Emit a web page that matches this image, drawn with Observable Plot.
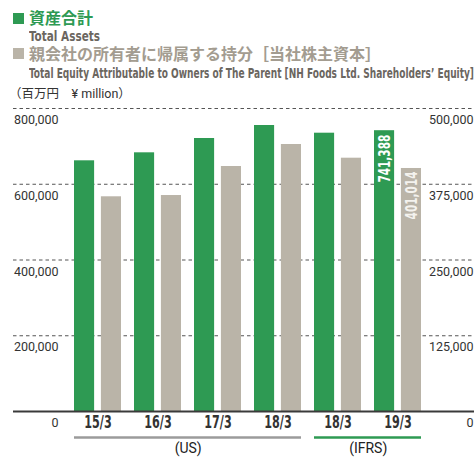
<!DOCTYPE html>
<html><head><meta charset="utf-8">
<script src="https://cdn.jsdelivr.net/npm/d3@7"></script>
<script src="https://cdn.jsdelivr.net/npm/@observablehq/plot@0.6"></script>
<style>
body{margin:0;background:#fff;}
#wrap{position:relative;width:474px;height:460px;overflow:hidden;font-family:Roboto,"Noto Sans CJK JP",sans-serif;}
.hd{position:absolute;white-space:nowrap;}
.sq{position:absolute;width:11px;height:11px;}
.jp{font-family:"DejaVu Sans","Noto Sans CJK JP",sans-serif;font-weight:bold;font-size:16px;line-height:16px;}
.narrow{font-family:"DejaVu Sans Condensed","Liberation Sans Narrow",sans-serif;font-weight:bold;font-size:14px;line-height:14px;color:#6b665f;transform-origin:0 50%;}
#plot{position:absolute;left:0;top:100px;}
</style></head><body>
<div id="wrap">
  <div class="sq" style="left:13px;top:13px;background:#2e9a53"></div>
  <div class="hd jp" style="left:29px;top:11px;color:#2e9a53">資産合計</div>
  <div class="hd narrow" data-w="71" style="left:29px;top:29px">Total Assets</div>
  <div class="sq" style="left:13px;top:48px;background:#bab4a8"></div>
  <div class="hd jp" style="left:29px;top:47px;color:#a39c90">親会社の所有者に帰属する持分［当社株主資本］</div>
  <div class="hd narrow" data-w="445" style="left:29px;top:66px">Total Equity Attributable to Owners of The Parent [NH Foods Ltd. Shareholders’ Equity]</div>
  <div class="hd" style="left:9px;top:87px;font-size:12.5px;line-height:13px;color:#333;font-family:Roboto,'Noto Sans CJK JP',sans-serif">（百万円　¥ million）</div>
  <div id="plot"></div>
</div>
<script>
// ---- data ----
const periods = ["15/3", "16/3", "17/3", "18/3", "18/3", "19/3"];
const standards = ["US", "US", "US", "US", "IFRS", "IFRS"];
const totalAssets = [661900, 683000, 720800, 755100, 734800, 741388];
const equity = [354300, 356400, 404300, 440600, 418000, 401014];
const labelled = [false, false, false, false, false, true];
const leftTicks = [0, 200000, 400000, 600000, 800000];
const rightTicks = [0, 125000, 250000, 375000, 500000];
const regimeKeys = ["US", "IFRS"];
const regimeNames = ["(US)", "(IFRS)"];

// ---- build ----
const GREEN = "#2e9a53", GRAY = "#bab4a8";
const ratio = 500000 / 800000;
const fmt = d3.format(",");
const narrow = '"DejaVu Sans Condensed","Liberation Sans Narrow",sans-serif';
const keys = periods.map((p, i) => p + " " + standards[i]);
const rows = keys.map((k, i) => ({key: k, label: periods[i], std: standards[i], assets: totalAssets[i], equity: equity[i], eqScaled: equity[i] / ratio, show: labelled[i]}));
const regimes = regimeKeys.map((s, j) => {
  const ks = keys.filter((k, i) => standards[i] === s);
  return {from: ks[0], to: ks[ks.length - 1], mid: ks[ks.length / 2 - 1], name: regimeNames[j], std: s};
});

const xRange = [73, 422], padIn = 0.224, barW = 20;
const step = (xRange[1] - xRange[0]) / (keys.length - padIn);
const bw = step * (1 - padIn);
const inset = bw - barW;
const off = bw / 2 - barW / 2;

const chart = Plot.plot({
  width: 474, height: 360,
  marginTop: 8, marginBottom: 49, marginLeft: 13, marginRight: 0,
  x: {type: "band", domain: keys, range: xRange, paddingInner: padIn, paddingOuter: 0, axis: null},
  y: {domain: [0, 800000], axis: null},
  style: {fontFamily: "Roboto, sans-serif", background: "white", overflow: "visible"},
  marks: [
    Plot.ruleY(leftTicks.filter(d => d > 0), {y: d => d, stroke: "#555", strokeDasharray: "3.5,3", strokeWidth: 1}),
    Plot.barY(rows, {x: "key", y: "assets", fill: GREEN, insetRight: inset}),
    Plot.barY(rows, {x: "key", y: "eqScaled", fill: GRAY, insetLeft: inset}),
    Plot.ruleY([0], {stroke: "#3a3a3a", strokeWidth: 1.8}),
    Plot.text(rows.filter(d => d.show), {x: "key", y: "assets", text: d => fmt(d.assets), rotate: -90, textAnchor: "end", dx: -off, dy: 4, fill: "white", fontSize: 16, fontWeight: "bold", fontFamily: narrow}),
    Plot.text(rows.filter(d => d.show), {x: "key", y: "eqScaled", text: d => fmt(d.equity), rotate: -90, textAnchor: "end", dx: off, dy: 3, fill: "#f4f2ee", fontSize: 16, fontWeight: "bold", fontFamily: narrow}),
    Plot.text(leftTicks, {y: d => d, text: d => fmt(d), frameAnchor: "left", textAnchor: "end", dx: 45, dy: 11.5, fontSize: 12.5, fill: "#333"}),
    Plot.text(rightTicks, {y: d => d / ratio, text: d => fmt(d), frameAnchor: "right", textAnchor: "end", dx: -1, dy: 11.5, fontSize: 12.5, fill: "#333"}),
    Plot.text(rows, {x: "key", text: "label", frameAnchor: "bottom", dy: 16, fontSize: 17, fontWeight: "bold", fontFamily: narrow, fill: "#333"}),
    Plot.ruleY(regimes, {x1: "from", x2: "to", y: () => 0, dy: 26, stroke: d => d.std === "US" ? "#9b9b9b" : GREEN, strokeWidth: 2.5}),
    Plot.text(regimes, {x: "mid", text: "name", frameAnchor: "bottom", dx: step / 2, dy: 41, fontSize: 14, fill: "#222"})
  ]
});
document.getElementById("plot").appendChild(chart);

// condense the bold narrow texts inside the chart
chart.querySelectorAll('g[font-family*="Condensed"] text').forEach(t => {
  const L = t.getComputedTextLength();
  t.setAttribute("textLength", (L * 0.73).toFixed(1));
  t.setAttribute("lengthAdjust", "spacingAndGlyphs");
});

// fit condensed header lines to their measured widths
document.querySelectorAll("[data-w]").forEach(el => {
  const w = el.getBoundingClientRect().width;
  el.style.transform = `scaleX(${(+el.dataset.w) / w})`;
});
</script>
</body></html>
